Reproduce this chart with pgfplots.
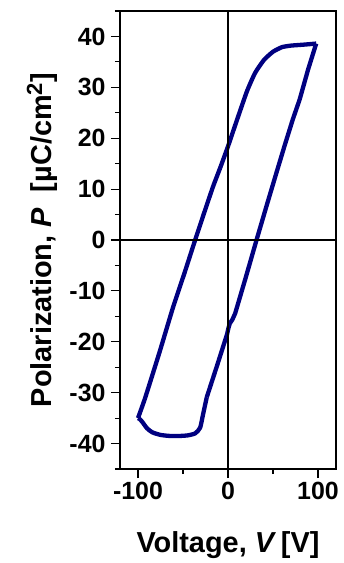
\documentclass[border=0pt]{standalone}
\usepackage{fontspec}
\setmainfont{Liberation Sans}
\usepackage{pgfplots}
\pgfplotsset{compat=1.18}
\definecolor{loopblue}{RGB}{0,0,128}
\begin{document}
\begin{tikzpicture}
\begin{axis}[
  scale only axis,
  width=216bp, height=458bp,
  xmin=-120, xmax=120, ymin=-45, ymax=45,
  xtick={-100,0,100}, minor xtick={-50,50},
  ytick={-40,-30,...,40}, minor ytick={-45,-35,...,45},
  tick align=outside,
  xtick pos=bottom, ytick pos=left,
  major tick length=9bp, minor tick length=5bp,
  every tick/.style={black, line width=1.2pt},
  axis line style={black, line width=1.6pt},
  /pgf/number format/assume math mode=true,
  ticklabel style={font=\fontsize{25}{27}\selectfont\bfseries},
  xticklabel style={yshift=-1bp},
  yticklabel style={xshift=-2bp},
  xlabel={Voltage, \textit{V}\,[V]},
  ylabel={Polarization, \textit{P}\ \ [\textmu C/cm\textsuperscript{\fontsize{22}{22}\selectfont 2}]},
  xlabel style={font=\fontsize{29}{32}\selectfont\bfseries, at={(axis description cs:0.5,-0.166)}, anchor=center},
  ylabel style={font=\fontsize{29}{32}\selectfont\bfseries, at={(axis description cs:-0.361,0.5)}, anchor=center, rotate=0},
  clip=false,
]
\addplot[loopblue, line width=4.3bp, line join=round, smooth, tension=0.3] coordinates {
(-100,-35) (-92,-31) (-76,-22) (-61,-13.2) (-48,-6.3) (-36.5,0) (-26,5.6) (-16.6,10.5) (-8,14.5) (0,18.4) (10,23.6) (21,29.2) (30,32.8) (40,35.4) (50,37.0) (60,37.9) (70,38.2) (85,38.4) (98,38.6)
};
\addplot[loopblue, line width=4.3bp, line join=round] coordinates {
(98,38.6) (89,33.5) (79.6,27.6) (72,23.7) (63,18.6) (53.8,13.2) (43,6.8) (31.7,0) (20,-7.2) (8,-14.4) (5,-15.6) (2,-16.4) (0.5,-17.3) (-1,-18.5) (-12,-24.6) (-23.6,-30.9)
};
\addplot[loopblue, line width=4.3bp, line join=round, smooth, tension=0.4] coordinates {
(-23.6,-30.9) (-28,-34.5) (-31,-36.9) (-36.5,-38) (-45,-38.4) (-53,-38.5) (-65,-38.5) (-75,-38.3) (-84,-37.8) (-90,-37) (-95,-35.8) (-98,-35.2) (-100,-35)
};
\addplot[black, line width=1.2pt] coordinates {(0,-45) (0,45)};
\addplot[black, line width=1.2pt] coordinates {(-120,0) (120,0)};
\end{axis}
\path (current axis.south west) ++(-120bp,-94bp) rectangle ++(344bp,563bp);
\end{tikzpicture}
\end{document}
